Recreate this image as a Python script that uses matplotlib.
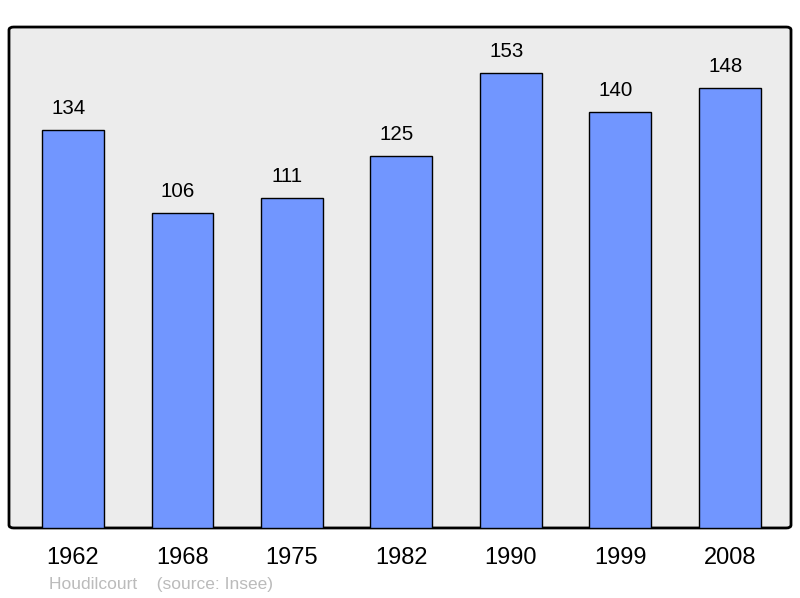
import matplotlib.pyplot as plt
from matplotlib.patches import FancyBboxPatch

years = ['1962', '1968', '1975', '1982', '1990', '1999', '2008']
population = [134, 106, 111, 125, 153, 140, 148]
commune = 'Houdilcourt'
source = '(source: Insee)'

plt.rcParams['font.family'] = ['Liberation Sans', 'DejaVu Sans']

fig = plt.figure(figsize=(8, 5.98), dpi=100)
ax = fig.add_axes([0.01125, 0.1171, 0.9775, 0.8377])
ax.set_facecolor('none')

# fond arrondi
frame = FancyBboxPatch((0, 0), 1, 1, boxstyle='round,pad=0,rounding_size=0.006',
                       transform=ax.transAxes, facecolor='#ececec',
                       edgecolor='black', linewidth=2, zorder=0, clip_on=False)
ax.add_patch(frame)

x = list(range(len(years)))
ax.bar(x, population, width=0.566, color='#7196ff', edgecolor='black',
       linewidth=1, zorder=2)
for xi, v in zip(x, population):
    ax.text(xi - 0.04, v + 4.0, str(v), ha='center', va='bottom', fontsize=14.8, zorder=3)

ax.set_xlim(-0.585, 6.56)
ax.set_ylim(0, 168.5)
ax.set_xticks(x)
ax.set_xticklabels(years, fontsize=17)
ax.tick_params(axis='x', length=0, pad=14)
ax.set_yticks([])
for s in ax.spines.values():
    s.set_visible(False)

fig.text(49 / 800, 1 - 584 / 598, commune + '    ' + source, fontsize=12.5,
         color='#bbbbbb', va='center', ha='left')

fig.savefig('out.png', dpi=100)
